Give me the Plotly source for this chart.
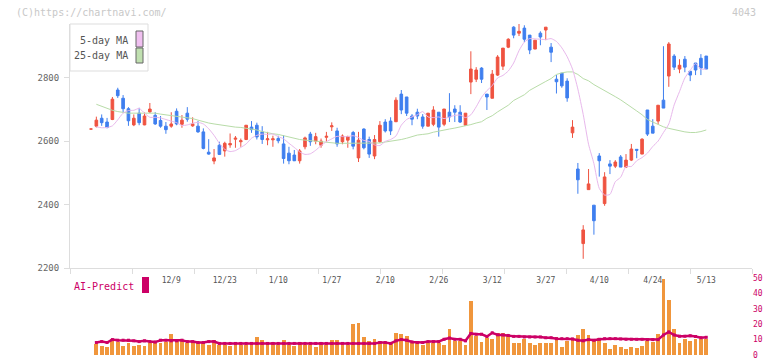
import plotly.graph_objects as go

# ---------------- data ----------------
tick_idx = [15, 25, 35, 45, 55, 65, 75, 85, 95, 105, 115]
tick_text = ["12/9", "12/23", "1/10", "1/27", "2/10", "2/26", "3/12", "3/27", "4/10", "4/24", "5/13"]

opens = [2638, 2647, 2672, 2660, 2668, 2761, 2735, 2702, 2651, 2688,
         2651, 2692, 2681, 2665, 2647, 2647, 2694, 2653, 2688, 2648,
         2647, 2629, 2565, 2537, 2587, 2569, 2588, 2606, 2598, 2605,
         2644, 2650, 2629, 2604, 2604, 2608, 2591, 2562, 2556, 2538,
         2582, 2622, 2600, 2587, 2612, 2645, 2632, 2598, 2603, 2627,
         2547, 2638, 2605, 2553, 2598, 2660, 2663, 2661, 2748, 2739,
         2679, 2691, 2676, 2647, 2653, 2691, 2653, 2691, 2701, 2691,
         2650, 2786, 2795, 2830, 2748, 2735, 2808, 2836, 2896, 2959,
         2940, 2956, 2934, 2890, 2940, 2950, 2896, 2795, 2814, 2789,
         2626, 2512, 2277, 2447, 2398, 2553, 2403, 2528, 2521, 2550,
         2518, 2540, 2574, 2559, 2698, 2647, 2663, 2729, 2805, 2868,
         2827, 2858, 2820, 2846, 2861, 2868]
highs = [2638, 2677, 2684, 2673, 2739, 2768, 2745, 2707, 2684, 2705,
         2690, 2720, 2691, 2679, 2660, 2691, 2703, 2682, 2707, 2675,
         2663, 2640, 2606, 2575, 2598, 2598, 2624, 2616, 2608, 2650,
         2663, 2658, 2647, 2629, 2617, 2617, 2619, 2582, 2572, 2575,
         2614, 2629, 2626, 2608, 2629, 2659, 2642, 2621, 2617, 2632,
         2629, 2640, 2614, 2619, 2663, 2669, 2675, 2738, 2761, 2739,
         2685, 2702, 2685, 2688, 2710, 2691, 2701, 2751, 2713, 2713,
         2688, 2883, 2833, 2833, 2748, 2824, 2871, 2893, 2924, 2962,
         2969, 2965, 2934, 2918, 2946, 2959, 2909, 2808, 2814, 2798,
         2666, 2531, 2335, 2512, 2398, 2562, 2502, 2540, 2540, 2556,
         2559, 2591, 2575, 2609, 2698, 2669, 2713, 2899, 2912, 2874,
         2858, 2868, 2820, 2846, 2874, 2868]
lows = [2638, 2643, 2648, 2640, 2666, 2736, 2690, 2648, 2647, 2650,
        2650, 2689, 2651, 2642, 2623, 2642, 2650, 2642, 2661, 2645,
        2626, 2574, 2557, 2527, 2556, 2551, 2579, 2579, 2582, 2603,
        2626, 2605, 2591, 2587, 2582, 2593, 2529, 2527, 2537, 2529,
        2574, 2585, 2590, 2579, 2598, 2632, 2582, 2590, 2579, 2574,
        2534, 2574, 2547, 2543, 2595, 2627, 2619, 2660, 2685, 2679,
        2650, 2669, 2639, 2647, 2647, 2614, 2647, 2660, 2660, 2657,
        2650, 2748, 2786, 2783, 2698, 2735, 2805, 2824, 2893, 2924,
        2931, 2912, 2874, 2890, 2902, 2918, 2849, 2750, 2768, 2724,
        2610, 2434, 2229, 2447, 2305, 2488, 2396, 2496, 2515, 2518,
        2515, 2537, 2546, 2559, 2616, 2625, 2653, 2704, 2771, 2824,
        2814, 2817, 2789, 2808, 2808, 2827]
closes = [2638, 2666, 2658, 2643, 2732, 2743, 2702, 2664, 2672, 2658,
          2679, 2701, 2654, 2647, 2636, 2654, 2654, 2666, 2669, 2654,
          2629, 2577, 2559, 2547, 2558, 2593, 2592, 2609, 2601, 2650,
          2636, 2613, 2605, 2607, 2607, 2601, 2545, 2538, 2538, 2569,
          2610, 2598, 2614, 2600, 2615, 2648, 2591, 2616, 2614, 2584,
          2603, 2579, 2559, 2605, 2650, 2632, 2632, 2729, 2698, 2688,
          2669, 2679, 2647, 2688, 2698, 2644, 2701, 2676, 2691, 2660,
          2688, 2827, 2824, 2795, 2739, 2811, 2865, 2893, 2921, 2934,
          2946, 2921, 2887, 2918, 2928, 2959, 2880, 2787, 2774, 2736,
          2644, 2478, 2320, 2465, 2349, 2538, 2487, 2521, 2534, 2518,
          2540, 2575, 2571, 2606, 2622, 2625, 2713, 2704, 2906, 2833,
          2839, 2833, 2808, 2824, 2830, 2827]

ma5 = [None, 2645, 2642, 2643, 2648, 2667, 2688, 2696, 2697, 2703,
       2688, 2675, 2675, 2673, 2668, 2663, 2658, 2649, 2651, 2656,
       2659, 2654, 2639, 2618, 2593, 2574, 2567, 2570, 2580, 2591,
       2609, 2618, 2622, 2621, 2622, 2614, 2607, 2593, 2580, 2566,
       2558, 2560, 2571, 2586, 2598, 2607, 2615, 2614, 2614, 2617,
       2611, 2602, 2599, 2588, 2586, 2599, 2605, 2616, 2650, 2668,
       2676, 2683, 2693, 2676, 2674, 2676, 2671, 2676, 2681, 2682,
       2674, 2683, 2708, 2738, 2759, 2775, 2799, 2807, 2821, 2846,
       2885, 2912, 2923, 2922, 2921, 2920, 2923, 2914, 2894, 2866,
       2827, 2764, 2684, 2590, 2529, 2451, 2430, 2432, 2472, 2486,
       2520, 2520, 2538, 2548, 2562, 2583, 2600, 2627, 2654, 2714,
       2756, 2799, 2823, 2844, 2827, 2827]
ma25 = [None, 2716, 2710, 2702, 2697, 2693, 2690, 2688, 2688, 2688,
        2688, 2688, 2688, 2685, 2683, 2680, 2678, 2676, 2673, 2671,
        2666, 2661, 2657, 2654, 2651, 2648, 2645, 2644, 2643, 2641,
        2638, 2635, 2630, 2626, 2623, 2621, 2617, 2612, 2608, 2605,
        2603, 2601, 2599, 2597, 2595, 2593, 2593, 2593, 2593, 2593,
        2593, 2593, 2593, 2593, 2594, 2597, 2599, 2601, 2605, 2609,
        2614, 2619, 2621, 2623, 2628, 2632, 2635, 2638, 2641, 2644,
        2647, 2652, 2657, 2661, 2672, 2680, 2692, 2703, 2713, 2728,
        2738, 2746, 2760, 2770, 2778, 2788, 2797, 2810, 2815, 2818,
        2818, 2810, 2797, 2790, 2778, 2769, 2760, 2750, 2740, 2730,
        2719, 2708, 2695, 2683, 2668, 2660, 2652, 2645, 2640, 2636,
        2632, 2629, 2627, 2627, 2630, 2635]

volume = [None, 6.9, 5.6, 5.0, 10.6, 8.5, 5.6, 8.1, 5.6, 6.5,
          5.6, 8.1, 8.1, 8.1, 8.5, 13.7, 9.2, 9.2, 8.1, 8.7,
          7.5, 8.1, 6.7, 10.0, 6.7, 6.7, 5.6, 6.7, 6.7, 6.7,
          6.7, 11.9, 9.6, 6.7, 8.7, 6.7, 10.0, 6.7, 5.6, 8.7,
          6.7, 6.7, 5.0, 8.7, 6.7, 9.6, 10.0, 6.7, 6.7, 20.0,
          20.6, 11.9, 9.4, 10.6, 9.2, 7.5, 7.5, 14.4, 13.7, 12.5,
          7.5, 7.5, 6.2, 7.5, 7.5, 7.5, 6.7, 16.9, 9.2, 9.2,
          6.7, 35.0, 12.3, 8.7, 11.2, 10.6, 14.4, 14.4, 12.9, 8.1,
          7.5, 10.2, 7.5, 6.7, 8.1, 8.1, 8.1, 11.9, 5.0, 9.2,
          11.2, 12.7, 16.9, 13.3, 10.2, 11.2, 8.1, 3.8, 6.2, 5.4,
          3.8, 5.0, 4.4, 5.8, 9.2, 8.7, 13.7, 49.4, 35.6, 16.9,
          7.5, 10.6, 9.4, 10.6, 10.2, 10.2]
ai_predict = [None, 8.1, 8.7, 8.1, 10.0, 9.6, 9.6, 9.6, 9.2, 8.7,
              9.2, 8.7, 8.4, 9.6, 9.6, 9.2, 9.2, 9.6, 8.7, 8.7,
              8.1, 8.1, 8.7, 8.7, 7.5, 7.5, 7.5, 7.5, 7.5, 7.5,
              7.5, 7.5, 7.5, 7.5, 7.5, 7.5, 7.5, 7.5, 7.5, 7.5,
              7.5, 7.5, 7.5, 7.5, 7.5, 7.5, 7.5, 7.5, 7.5, 7.5,
              7.5, 7.5, 7.5, 7.5, 8.1, 8.1, 7.5, 9.2, 10.0, 9.6,
              8.5, 8.1, 8.1, 8.7, 8.7, 8.7, 10.2, 11.0, 10.2, 10.2,
              9.2, 14.0, 13.5, 13.5, 12.0, 14.4, 13.1, 13.1, 12.7, 12.1,
              12.1, 11.7, 11.7, 11.7, 11.7, 11.2, 11.2, 10.6, 10.6, 10.6,
              10.4, 9.6, 9.2, 10.0, 9.6, 10.2, 10.6, 10.6, 10.6, 10.4,
              10.2, 10.2, 10.2, 10.2, 10.0, 10.0, 10.0, 13.0, 15.0, 13.0,
              12.2, 12.2, 12.5, 12.0, 11.2, 11.5]

idx = list(range(len(closes)))

# ---------------- styling ----------------
RED = "#EF5340"
BLUE = "#3F7FEF"
ORANGE = "#F0963C"
CRIMSON = "#CC0066"
PINK = "#E8B8EC"
GREEN = "#B8DCA8"
AX = "#DDDDDD"
MONO = "DejaVu Sans Mono"

W, H = 772, 361
ML, MR, MT, MB = 70, 20, 24, 6
PW = W - ML - MR
PH = H - MT - MB

def px_x(p):
    return (p - ML) / PW

def px_y(p):
    return (H - MB - p) / PH

x_range = [-3.925, 123.55]

fig = go.Figure()

fig.add_trace(go.Scatter(x=idx, y=ma25, mode="lines", line=dict(color=GREEN, width=1),
                         xaxis="x", yaxis="y", hoverinfo="skip", showlegend=False))
fig.add_trace(go.Scatter(x=idx, y=ma5, mode="lines", line=dict(color=PINK, width=1, shape="spline", smoothing=0.6),
                         xaxis="x", yaxis="y", hoverinfo="skip", showlegend=False))
fig.add_trace(go.Candlestick(
    x=idx, open=opens, high=highs, low=lows, close=closes,
    increasing=dict(line=dict(color=RED, width=1), fillcolor=RED),
    decreasing=dict(line=dict(color=BLUE, width=1), fillcolor=BLUE),
    whiskerwidth=0, xaxis="x", yaxis="y", hoverinfo="skip", showlegend=False))

fig.add_trace(go.Bar(x=idx, y=volume, marker=dict(color=ORANGE, line=dict(width=0)), width=0.72,
                     xaxis="x2", yaxis="y2", hoverinfo="skip", showlegend=False))
fig.add_trace(go.Scatter(x=idx, y=ai_predict, mode="lines+markers",
                         line=dict(color=CRIMSON, width=2.5),
                         marker=dict(symbol="square", size=3, color=CRIMSON),
                         xaxis="x2", yaxis="y2", hoverinfo="skip", showlegend=False))
# carrier trace for the evenly spaced tick marks axis
fig.add_trace(go.Scatter(x=[0, 11], y=[None, None], xaxis="x3", yaxis="y",
                         mode="lines", hoverinfo="skip", showlegend=False))

main_bottom = px_y(268)
vol_top = px_y(278)

fig.update_layout(
    width=W, height=H,
    margin=dict(l=ML, r=MR, t=MT, b=MB, pad=0, autoexpand=False),
    paper_bgcolor="white", plot_bgcolor="white",
    showlegend=False,
    bargap=0,
    xaxis=dict(domain=[0, 1], range=x_range, anchor="y", showgrid=False, zeroline=False,
               automargin=False,
               showline=True, linecolor=AX, linewidth=1,
               tickmode="array", tickvals=tick_idx, ticktext=tick_text, ticks="",
               tickfont=dict(family=MONO, size=8, color="#555555"),
               ticklabelstandoff=4, rangeslider=dict(visible=False), fixedrange=True),
    xaxis3=dict(overlaying="x", anchor="y", range=[0, 11], tickmode="linear", tick0=0, dtick=1,
                automargin=False,
                ticks="outside", ticklen=5, tickcolor=AX, showticklabels=False,
                showgrid=False, zeroline=False, showline=False),
    yaxis=dict(domain=[main_bottom, 1], range=[2200, 2969], showgrid=False, zeroline=False,
               automargin=False,
               showline=True, linecolor=AX, linewidth=1,
               tickmode="array", tickvals=[2200, 2400, 2600, 2800], ticks="outside",
               ticklen=5, tickcolor=AX, ticklabelstandoff=3,
               tickfont=dict(family=MONO, size=9, color="#666666")),
    xaxis2=dict(domain=[0, 1], range=x_range, anchor="y2", showgrid=False, zeroline=False,
                automargin=False,
                showline=False, showticklabels=False, ticks=""),
    yaxis2=dict(domain=[0, vol_top], range=[0, 50], side="right", anchor="x2",
                automargin=False, ticklabeloverflow="allow",
                showgrid=False, zeroline=False, showline=False,
                tickmode="array", tickvals=[0, 10, 20, 30, 40, 50], ticks="",
                tickfont=dict(family=MONO, size=8, color=CRIMSON)),
)

annotations = [
    dict(text="(C)https://chartnavi.com/", x=px_x(14), y=px_y(12), xref="paper", yref="paper",
         xanchor="left", yanchor="middle", showarrow=False,
         font=dict(family=MONO, size=10, color="#C8C8C8")),
    dict(text="4043", x=px_x(758), y=px_y(12), xref="paper", yref="paper",
         xanchor="right", yanchor="middle", showarrow=False,
         font=dict(family=MONO, size=10, color="#C8C8C8")),
    dict(text="5-day MA", x=px_x(130), y=px_y(40), xref="paper", yref="paper",
         xanchor="right", yanchor="middle", showarrow=False,
         font=dict(family=MONO, size=10, color="#555555")),
    dict(text="25-day MA", x=px_x(130), y=px_y(56), xref="paper", yref="paper",
         xanchor="right", yanchor="middle", showarrow=False,
         font=dict(family=MONO, size=10, color="#555555")),
    dict(text="AI-Predict", x=px_x(136), y=px_y(286), xref="paper", yref="paper",
         xanchor="right", yanchor="middle", showarrow=False,
         font=dict(family=MONO, size=10, color=CRIMSON)),
]
fig.update_layout(annotations=annotations)

shapes = [
    dict(type="rect", xref="paper", yref="paper", x0=px_x(70), x1=px_x(148), y0=px_y(71), y1=px_y(24),
         line=dict(color="#DDDDDD", width=1), fillcolor="white", layer="above"),
    dict(type="rect", xref="paper", yref="paper", x0=px_x(136), x1=px_x(143), y0=px_y(47), y1=px_y(31),
         line=dict(color="#666666", width=1), fillcolor="#F0C0F0", layer="above"),
    dict(type="rect", xref="paper", yref="paper", x0=px_x(136), x1=px_x(143), y0=px_y(63), y1=px_y(48),
         line=dict(color="#666666", width=1), fillcolor="#C0E0B0", layer="above"),
    dict(type="rect", xref="paper", yref="paper", x0=px_x(142), x1=px_x(149), y0=px_y(293), y1=px_y(277),
         line=dict(width=0), fillcolor=CRIMSON, layer="above"),
]
fig.update_layout(shapes=shapes)

fig.write_html("out.html",
               config={"displayModeBar": False, "staticPlot": True},
               post_script="document.body.style.margin='0';document.body.style.padding='0';"
                           "document.body.style.overflow='hidden';")
